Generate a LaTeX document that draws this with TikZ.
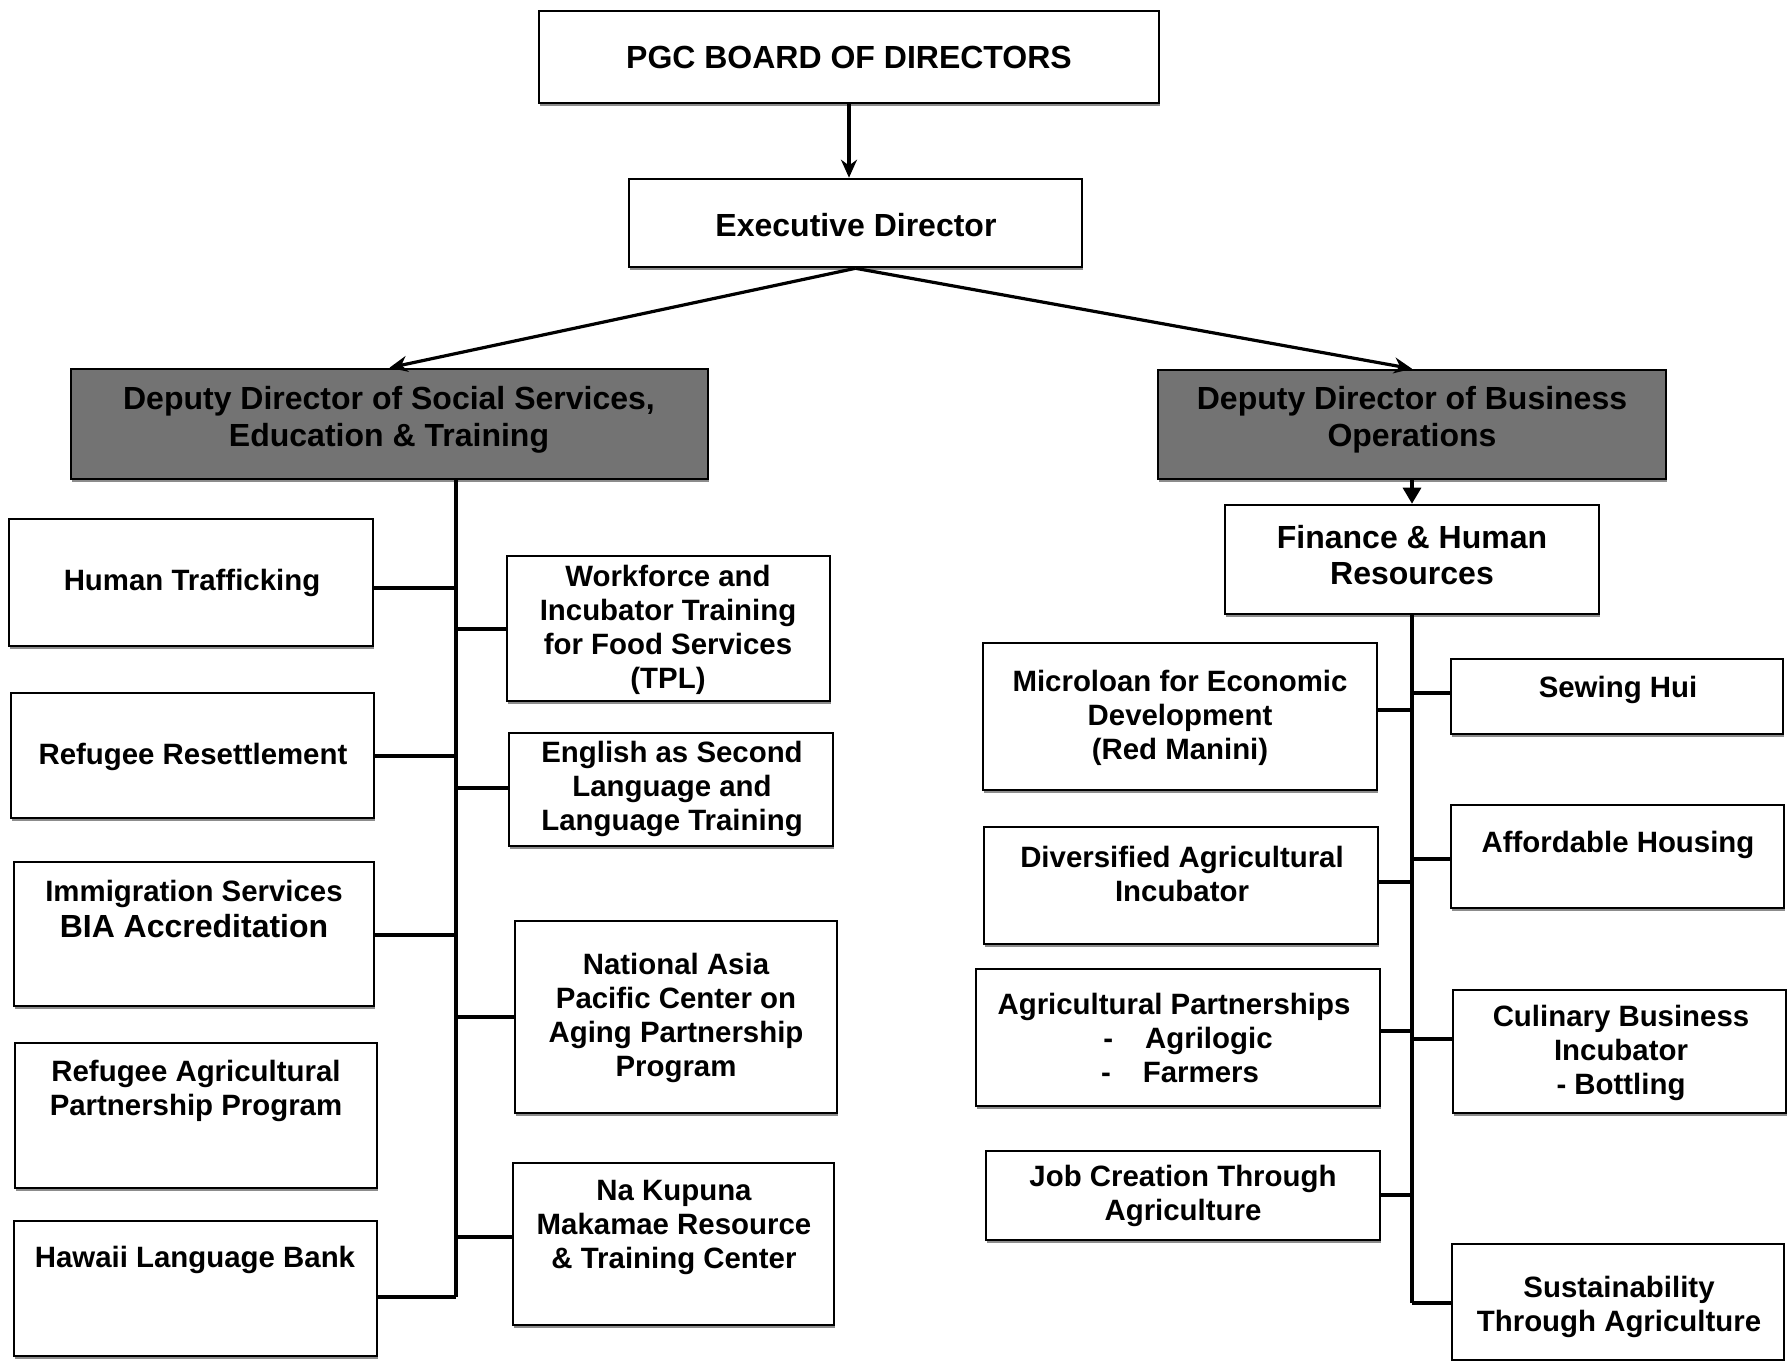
\documentclass[tikz,border=0pt]{standalone}
\usepackage{fontspec}
\setmainfont{Liberation Sans}
\usetikzlibrary{fit,arrows.meta,shadows}
\begin{document}
\begin{tikzpicture}[x=0.5pt,y=-0.5pt,
 box/.style={draw=black, line width=1.3pt, fill=white, inner sep=0pt,
   drop shadow={shadow xshift=0.6pt, shadow yshift=-1.3pt, fill=black!45, opacity=1}},
 dark/.style={box, fill=black!55},
 txt/.style={align=center, font=\bfseries\fontsize{14.7}{17}\selectfont, inner sep=0pt},
 big/.style={align=center, font=\bfseries\fontsize{16}{18.3}\selectfont, inner sep=0pt},
 conn/.style={line width=1.6pt},
 arr/.style={line width=1.6pt, -{Stealth[length=9pt,width=8pt]}},
 tri/.style={line width=1.6pt, -{Triangle[length=8pt,width=9pt]}}
]
\useasboundingbox (0,0) rectangle (1790,1361);

% top
\node[box, fit={(539,11) (1159,103)}] (pgc) {};
\node[big] (pgct) at (849,57) {PGC BOARD OF DIRECTORS};
\node[box, fit={(629,179) (1082,267)}] (ex) {};
\node[big] (ext) at (856,225) {Executive Director};

% deputies
\node[dark, fit={(71,369) (708,479)}] (dl) {};
\node[big] (dlt) at (389,420) {Deputy Director of Social Services,\\Education \& Training};
\node[dark, fit={(1158,370) (1666,479)}] (dr) {};
\node[big] (drt) at (1412,420) {Deputy Director of Business\\Operations};
\node[box, fit={(1225,505) (1599,614)}] (fin) {};
\node[big] (fint) at (1412,555) {Finance \& Human\\Resources};

% left side, outer column
\node[box, fit={(9,519) (373,646)}] (ht) {};
\node[txt] (htt) at (192,583) {Human Trafficking};
\node[box, fit={(11,693) (374,818)}] (rr) {};
\node[txt] (rrt) at (193,757) {Refugee Resettlement};
\node[box, fit={(14,862) (374,1006)}] (im) {};
\node[txt] (imt) at (194,909) {Immigration Services\\[1pt]{\fontsize{16}{18}\selectfont BIA Accreditation}};
\node[box, fit={(15,1043) (377,1188)}] (ra) {};
\node[txt] (rat) at (196,1091) {Refugee Agricultural\\Partnership Program};
\node[box, fit={(14,1221) (377,1356)}] (hl) {};
\node[txt] (hlt) at (195,1260) {Hawaii Language Bank};

% left side, inner column
\node[box, fit={(507,556) (830,701)}] (wf) {};
\node[txt] (wft) at (668,630) {Workforce and\\Incubator Training\\for Food Services\\(TPL)};
\node[box, fit={(509,733) (833,846)}] (es) {};
\node[txt] (est) at (672,789) {English as Second\\Language and\\Language Training};
\node[box, fit={(515,921) (837,1113)}] (na) {};
\node[txt] (nat) at (676,1018) {National Asia\\Pacific Center on\\Aging Partnership\\Program};
\node[box, fit={(513,1163) (834,1325)}] (nk) {};
\node[txt] (nkt) at (674,1227) {Na Kupuna\\Makamae Resource\\\& Training Center};

% right side, left column
\node[box, fit={(983,643) (1377,790)}] (ml) {};
\node[txt] (mlt) at (1180,718) {Microloan for Economic\\Development\\(Red Manini)};
\node[box, fit={(984,827) (1378,944)}] (da) {};
\node[txt] (dat) at (1182,874) {Diversified Agricultural\\Incubator};
\node[box, fit={(976,969) (1380,1106)}] (ap) {};
\node[txt] (apt) at (1174,1038) {Agricultural Partnerships\\\hspace*{14pt}-\hspace{16pt}Agrilogic\\\hspace*{6pt}-\hspace{16pt}Farmers};
\node[box, fit={(986,1151) (1380,1240)}] (jc) {};
\node[txt] (jct) at (1183,1196) {Job Creation Through\\Agriculture};

% right side, right column
\node[box, fit={(1451,659) (1783,734)}] (sh) {};
\node[txt] (sht) at (1618,690) {Sewing Hui};
\node[box, fit={(1451,805) (1784,908)}] (ah) {};
\node[txt] (aht) at (1618,845) {Affordable Housing};
\node[box, fit={(1453,990) (1786,1113)}] (cb) {};
\node[txt] (cbt) at (1621,1053) {Culinary Business\\Incubator\\- Bottling};
\node[box, fit={(1452,1244) (1784,1360)}] (sa) {};
\node[txt] (sat) at (1619,1307) {Sustainability\\Through Agriculture};

% arrows
\draw[arr] (pgc.south) -- (pgc.south |- ex.north);
\draw[arr] (ex.south) -- (dl.north);
\draw[arr] (ex.south) -- (dr.north);
\draw[tri] (dr.south) -- (fin.north);

% left spine
\coordinate (lt) at (456,479);
\coordinate (lb) at (456,1297);
\draw[conn] (lt) -- (lb);
\coordinate (j1) at (456,588);  \draw[conn] (ht.east |- j1) -- (j1);
\coordinate (j2) at (456,629);  \draw[conn] (j2) -- (wf.west |- j2);
\coordinate (j3) at (456,756);  \draw[conn] (rr.east |- j3) -- (j3);
\coordinate (j4) at (456,788);  \draw[conn] (j4) -- (es.west |- j4);
\coordinate (j5) at (456,935);  \draw[conn] (im.east |- j5) -- (j5);
\coordinate (j6) at (456,1017); \draw[conn] (j6) -- (na.west |- j6);
\coordinate (j7) at (456,1237); \draw[conn] (j7) -- (nk.west |- j7);
\draw[conn] (hl.east |- lb) -- (lb);

% right spine
\coordinate (rb) at (1412,1303);
\draw[conn] (fin.south) -- (rb);
\coordinate (k1) at (1412,693);  \draw[conn] (k1) -- (sh.west |- k1);
\coordinate (k2) at (1412,710);  \draw[conn] (ml.east |- k2) -- (k2);
\coordinate (k3) at (1412,859);  \draw[conn] (k3) -- (ah.west |- k3);
\coordinate (k4) at (1412,882);  \draw[conn] (da.east |- k4) -- (k4);
\coordinate (k5) at (1412,1031); \draw[conn] (ap.east |- k5) -- (k5);
\coordinate (k6) at (1412,1039); \draw[conn] (k6) -- (cb.west |- k6);
\coordinate (k7) at (1412,1195); \draw[conn] (jc.east |- k7) -- (k7);
\draw[conn] (rb) -- (sa.west |- rb);
\end{tikzpicture}
\end{document}
